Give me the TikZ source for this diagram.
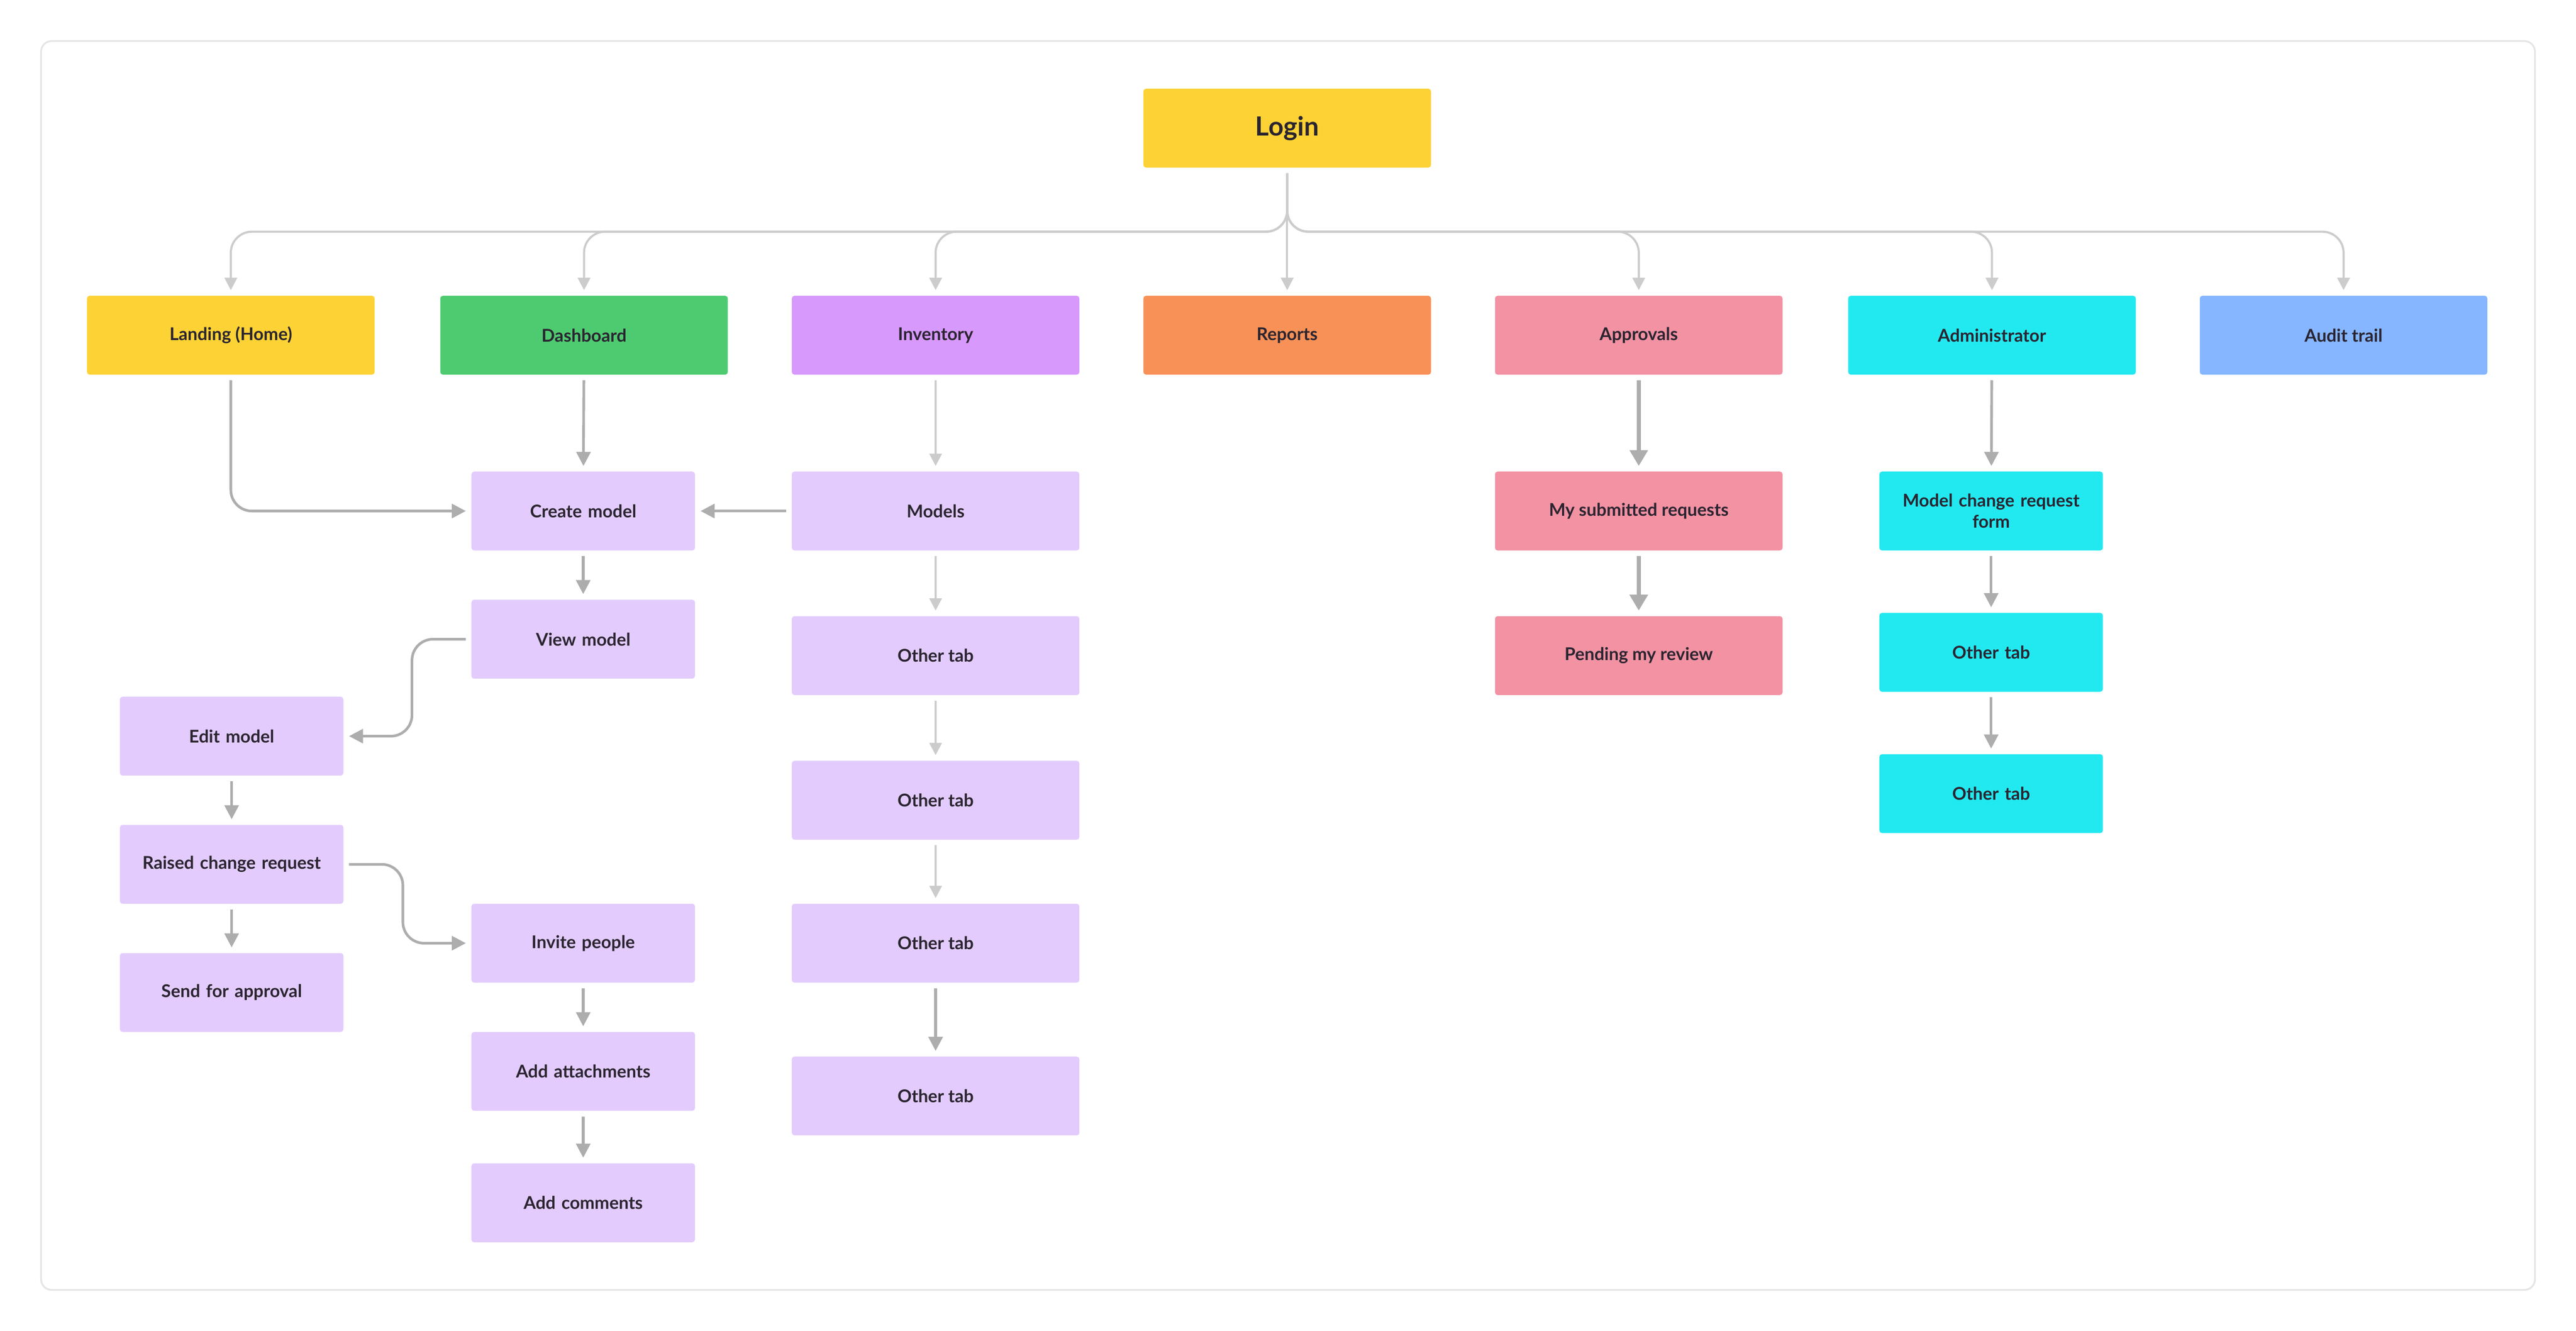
\documentclass[tikz,border=0pt]{standalone}
\usepackage{fontspec}
\setmainfont{Lato}
\usetikzlibrary{arrows.meta}
\definecolor{cyel}{HTML}{FDD235}
\definecolor{cgrn}{HTML}{4ECB71}
\definecolor{cpur}{HTML}{D899FD}
\definecolor{corg}{HTML}{F79157}
\definecolor{cpnk}{HTML}{F292A3}
\definecolor{ccyn}{HTML}{22E9F0}
\definecolor{cblu}{HTML}{85B6FF}
\definecolor{clil}{HTML}{E3CCFD}
\definecolor{ctxt}{HTML}{2A2430}
\definecolor{lgray}{HTML}{CCCCCC}
\definecolor{dgray}{HTML}{ADADAD}
\begin{document}
\begin{tikzpicture}[x=0.032857cm,y=-0.032857cm,
  box/.style={draw=none,rounded corners=1.5pt,minimum height=1.577cm,text=ctxt,font=\bfseries\fontsize{10}{12}\selectfont,align=center,inner sep=2pt},
  wide/.style={box,minimum width=5.75cm},
  narrow/.style={box,minimum width=4.469cm,text width=4.2cm},
  lc/.style={draw=lgray,line width=1.2pt,-{Triangle[length=7pt,width=7pt]},shorten >=3pt,shorten <=3pt},
  dc/.style={draw=dgray,line width=1.5pt,-{Triangle[length=8pt,width=8pt]},shorten >=3pt,shorten <=3pt},
  tc/.style={draw=dgray,line width=2.2pt,-{Triangle[length=9pt,width=10pt]},shorten >=3pt,shorten <=3pt},
  rc/.style={rounded corners=12pt}]
\useasboundingbox (0,0) rectangle (1568,810);
\draw[draw=black!10,line width=1pt,rounded corners=6pt,fill=white] (25,25) rectangle (1543,785);
\node[wide,fill=cyel,font=\bfseries\fontsize{15}{18}\selectfont] (login) at (783.5,78) {Login};
\node[wide,fill=cyel] (landing) at (140.5,204) {Landing (Home)};
\node[wide,fill=cgrn] (dash) at (355.5,204) {Dashboard};
\node[wide,fill=cpur] (inv) at (569.5,204) {Inventory};
\node[wide,fill=corg] (rep) at (783.5,204) {Reports};
\node[wide,fill=cpnk] (appr) at (997.5,204) {Approvals};
\node[wide,fill=ccyn] (admin) at (1212.5,204) {Administrator};
\node[wide,fill=cblu] (audit) at (1426.5,204) {Audit trail};
\node[narrow,fill=clil] (create) at (355,311) {Create model};
\node[narrow,fill=clil] (view) at (355,389) {View model};
\node[narrow,fill=clil] (edit) at (141,448) {Edit model};
\node[narrow,fill=clil] (raised) at (141,526) {Raised change request};
\node[narrow,fill=clil] (send) at (141,604) {Send for approval};
\node[narrow,fill=clil] (invite) at (355,574) {Invite people};
\node[narrow,fill=clil] (attach) at (355,652) {Add attachments};
\node[narrow,fill=clil] (comm) at (355,732) {Add comments};
\node[wide,fill=clil] (models) at (569.5,311) {Models};
\node[wide,fill=clil] (ot1) at (569.5,399) {Other tab};
\node[wide,fill=clil] (ot2) at (569.5,487) {Other tab};
\node[wide,fill=clil] (ot3) at (569.5,574) {Other tab};
\node[wide,fill=clil] (ot4) at (569.5,667) {Other tab};
\node[wide,fill=cpnk] (mysub) at (997.5,311) {My submitted requests};
\node[wide,fill=cpnk] (pend) at (997.5,399) {Pending my review};
\node[narrow,fill=ccyn] (mcr) at (1212,311) {Model change request\\form};
\node[narrow,fill=ccyn] (at1) at (1212,397) {Other tab};
\node[narrow,fill=ccyn] (at2) at (1212,483) {Other tab};
\coordinate (bus) at (783.5,141);
\foreach \c in {landing,dash,inv,appr,admin,audit}{
  \draw[lc,rc] (login.south) -- (bus) -| (\c.north);
}
\draw[lc] (login.south) -- (rep.north);
\draw[dc,rc] (landing.south) |- (create.west);
\draw[dc] (dash) -- (create);
\draw[dc] (models) -- (create);
\draw[dc] (create) -- (view);
\draw[dc,rc] (view.west) -- ++(-36,0) |- (edit.east);
\draw[dc] (edit) -- (raised);
\draw[dc] (raised) -- (send);
\draw[dc,rc] (raised.east) -- ++(36,0) |- (invite.west);
\draw[dc] (invite) -- (attach);
\draw[dc] (attach) -- (comm);
\draw[lc] (inv) -- (models);
\draw[lc] (models) -- (ot1);
\draw[lc] (ot1) -- (ot2);
\draw[lc] (ot2) -- (ot3);
\draw[dc] (ot3) -- (ot4);
\draw[tc] (appr) -- (mysub);
\draw[tc] (mysub) -- (pend);
\draw[dc] (admin) -- (mcr);
\draw[dc] (mcr) -- (at1);
\draw[dc] (at1) -- (at2);
\end{tikzpicture}
\end{document}
